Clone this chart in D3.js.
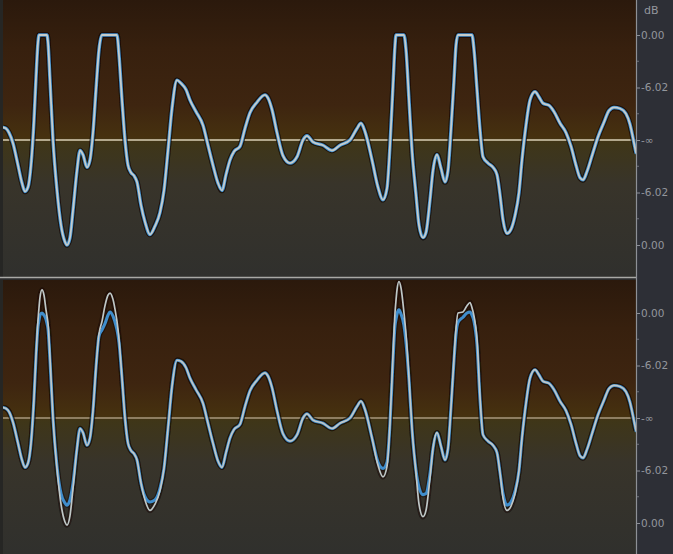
<!DOCTYPE html>
<html>
<head>
<meta charset="utf-8">
<script src="https://cdn.jsdelivr.net/npm/d3@7"></script>
<style>
  html, body { margin: 0; padding: 0; background: #2d2f36; overflow: hidden; }
  svg { display: block; }
</style>
</head>
<body>
<svg id="chart" width="673" height="554"></svg>
<script>
// Sample positions of the waveform vertices
const sample = [
  0,3,6,10,15,19,22,25,28,31,
  33,35,36,37,39,41,43,44,45,47,
  50,54,58,62,64,67,70,74,77,80,
  84,87,90,93,96,99,102,105,107,110,
  113,114,116,119,122,125,128,131,134,138,
  142,147,152,157,161,165,169,174,178,183,
  187,193,200,205,210,215,219,223,227,231,
  237,242,247,254,262,265,269,274,280,287,
  294,300,304,310,320,329,337,347,354,358,
  362,369,375,380,384,387,390,392,393,394,
  396,398,401,403,406,409,413,416,420,423,
  427,430,434,438,442,445,448,451,453,455,
  460,464,467,469,471,474,477,480,485,490,
  494,497,500,504,508,512,516,519,523,527,
  532,536,540,546,551,557,563,568,573,577,
  580,584,589,595,601,606,611,617,623,627,
  630,633
];

// Channel 1 (clipped at full scale)
const channel1 = [
  0.12,0.11,0.07,-0.03,-0.24,-0.41,-0.49,-0.45,-0.24,0.19,
  0.59,0.93,1,1,1,1,1,1,0.93,0.57,
  0,-0.48,-0.81,-0.97,-1,-0.93,-0.67,-0.29,-0.10,-0.14,
  -0.26,-0.19,0.07,0.48,0.86,1,1,1,1,1,
  1,1,0.81,0.38,0,-0.24,-0.31,-0.34,-0.40,-0.62,
  -0.78,-0.90,-0.82,-0.69,-0.48,-0.10,0.30,0.57,0.54,0.48,
  0.38,0.27,0.14,-0.05,-0.24,-0.41,-0.48,-0.33,-0.19,-0.11,
  -0.06,0.11,0.26,0.36,0.43,0.40,0.29,0.07,-0.15,-0.22,
  -0.16,0,0.04,-0.02,-0.05,-0.10,-0.05,0,0.11,0.16,
  0.08,-0.19,-0.45,-0.57,-0.46,-0.05,0.52,0.90,1,1,
  1,1,1,0.86,0.38,-0.10,-0.52,-0.81,-0.93,-0.88,
  -0.57,-0.29,-0.14,-0.27,-0.40,-0.29,0.10,0.57,0.90,1,
  1,1,1,1,0.86,0.48,0.10,-0.16,-0.22,-0.26,
  -0.33,-0.52,-0.76,-0.89,-0.85,-0.72,-0.50,-0.19,0.14,0.38,
  0.46,0.41,0.35,0.33,0.27,0.16,0.07,-0.06,-0.24,-0.36,
  -0.38,-0.30,-0.15,0.03,0.17,0.28,0.31,0.30,0.25,0.15,
  0.02,-0.12
];

// Channel 2, unlimited signal (overs above 0 dBFS)
const channel2Raw = [
  0.10,0.09,0.06,-0.04,-0.24,-0.40,-0.47,-0.43,-0.24,0.19,
  0.59,0.93,1.05,1.15,1.22,1.17,1.03,0.97,0.90,0.57,
  0,-0.48,-0.82,-0.99,-1.02,-0.93,-0.67,-0.29,-0.10,-0.14,
  -0.26,-0.19,0.07,0.48,0.80,0.92,1.07,1.17,1.19,1.13,
  0.98,0.92,0.75,0.38,0,-0.24,-0.31,-0.34,-0.40,-0.62,
  -0.78,-0.88,-0.82,-0.69,-0.48,-0.10,0.30,0.55,0.54,0.48,
  0.38,0.27,0.14,-0.05,-0.24,-0.41,-0.47,-0.33,-0.19,-0.11,
  -0.06,0.11,0.26,0.36,0.43,0.40,0.29,0.07,-0.15,-0.22,
  -0.16,0,0.04,-0.02,-0.05,-0.10,-0.05,0,0.11,0.16,
  0.08,-0.19,-0.45,-0.56,-0.46,-0.05,0.60,1.00,1.12,1.22,
  1.30,1.24,1.00,0.80,0.38,-0.10,-0.52,-0.82,-0.94,-0.88,
  -0.57,-0.29,-0.14,-0.27,-0.40,-0.29,0.10,0.57,0.85,1.00,
  1.01,1.07,1.10,1.05,0.97,0.75,0.20,-0.16,-0.22,-0.26,
  -0.33,-0.52,-0.76,-0.88,-0.84,-0.72,-0.50,-0.19,0.14,0.38,
  0.46,0.41,0.35,0.33,0.27,0.16,0.07,-0.06,-0.24,-0.36,
  -0.38,-0.30,-0.15,0.03,0.17,0.28,0.31,0.30,0.25,0.15,
  0.02,-0.12
];

// Channel 2 after the limiter
const channel2Limited = [
  0.10,0.09,0.06,-0.04,-0.24,-0.40,-0.47,-0.43,-0.24,0.19,
  0.58,0.87,0.93,0.98,1.00,0.98,0.94,0.90,0.85,0.55,
  0,-0.46,-0.72,-0.81,-0.83,-0.78,-0.62,-0.29,-0.10,-0.14,
  -0.26,-0.19,0.07,0.48,0.78,0.84,0.90,0.98,1.01,0.97,
  0.88,0.84,0.72,0.38,0,-0.24,-0.31,-0.34,-0.40,-0.62,
  -0.75,-0.80,-0.78,-0.67,-0.48,-0.10,0.30,0.55,0.54,0.48,
  0.38,0.27,0.14,-0.05,-0.24,-0.41,-0.47,-0.33,-0.19,-0.11,
  -0.06,0.11,0.26,0.36,0.43,0.40,0.29,0.07,-0.15,-0.22,
  -0.16,0,0.04,-0.02,-0.05,-0.10,-0.05,0,0.11,0.16,
  0.08,-0.19,-0.42,-0.48,-0.42,-0.05,0.55,0.88,0.94,0.99,
  1.03,0.99,0.88,0.72,0.36,-0.10,-0.50,-0.66,-0.73,-0.72,
  -0.53,-0.29,-0.14,-0.27,-0.40,-0.29,0.10,0.55,0.80,0.91,
  0.96,1.00,1.01,0.98,0.92,0.70,0.18,-0.16,-0.22,-0.26,
  -0.33,-0.52,-0.72,-0.83,-0.80,-0.70,-0.50,-0.19,0.14,0.38,
  0.46,0.41,0.35,0.33,0.27,0.16,0.07,-0.06,-0.24,-0.36,
  -0.38,-0.30,-0.15,0.03,0.17,0.28,0.31,0.30,0.25,0.15,
  0.02,-0.12
];

// dB ruler
const dbTicks = [1, 0.5, 0, -0.5, -1];
const dbLabels = ["0.00", "-6.02", "-\u221E", "-6.02", "0.00"];
const dbMinorTicks = [0.75, 0.25, -0.25, -0.75];
const rulerUnit = "dB";

const W = 673, H = 554;
const plotLeft = 3, plotRight = 636;
const lanes = [
  { top: 0, bottom: 277, center: 140, half: 105 },
  { top: 280, bottom: 554, center: 418, half: 105 }
];

const svg = d3.select("#chart");
const defs = svg.append("defs");

// background gradients for each lane: brown above the centre line, slate below
lanes.forEach((ln, i) => {
  const g = defs.append("linearGradient")
    .attr("id", "laneBg" + i)
    .attr("gradientUnits", "userSpaceOnUse")
    .attr("x1", 0).attr("x2", 0).attr("y1", ln.top).attr("y2", ln.bottom);
  const span = ln.bottom - ln.top;
  const c = (ln.center - ln.top) / span;
  [
    [0, "#2b190c"],
    [c * 0.35, "#37200e"],
    [c * 0.75, "#3e2510"],
    [c - 0.01, "#46310f"],
    [c + 0.01, "#3f3618"],
    [c + 0.16, "#38342a"],
    [1, "#30302d"]
  ].forEach(([o, col]) => g.append("stop").attr("offset", o).attr("stop-color", col));

  defs.append("clipPath").attr("id", "laneClip" + i)
    .append("rect")
    .attr("x", plotLeft).attr("y", ln.top)
    .attr("width", plotRight - plotLeft).attr("height", ln.bottom - ln.top);
});

const soften = defs.append("filter").attr("id", "soften")
  .attr("x", "-5%").attr("y", "-5%").attr("width", "110%").attr("height", "110%");
soften.append("feGaussianBlur").attr("stdDeviation", 0.6);

// page + ruler background
svg.append("rect").attr("width", W).attr("height", H).attr("fill", "#2d2f36");
svg.append("rect").attr("x", 0).attr("y", 0).attr("width", plotRight).attr("height", H).attr("fill", "#262624");

const x = d3.scaleLinear().domain([0, 633]).range([plotLeft, plotRight]);

function drawLane(i, traces) {
  const ln = lanes[i];
  const y = d3.scaleLinear().domain([-1, 1]).range([ln.center + ln.half, ln.center - ln.half]);
  const g = svg.append("g");

  g.append("rect")
    .attr("x", plotLeft).attr("y", ln.top)
    .attr("width", plotRight - plotLeft).attr("height", ln.bottom - ln.top)
    .attr("fill", `url(#laneBg${i})`);

  // centre (-inf) line
  g.append("line")
    .attr("x1", plotLeft).attr("x2", plotRight)
    .attr("y1", y(0)).attr("y2", y(0))
    .attr("stroke", i === 0 ? "#d8d1b6" : "#a8997c")
    .attr("stroke-width", i === 0 ? 1.6 : 1.3);

  const line = d3.line()
    .x((d, k) => x(sample[k]))
    .y(d => y(d))
    .curve(d3.curveMonotoneX);

  const wave = g.append("g")
    .attr("clip-path", `url(#laneClip${i})`)
    .attr("filter", "url(#soften)");

  // dark halo under the traces
  traces.forEach(t => {
    wave.append("path").attr("d", line(t.values))
      .attr("fill", "none").attr("stroke", "#120c06")
      .attr("stroke-opacity", 0.45).attr("stroke-width", 5.5)
      .attr("stroke-linejoin", "round");
  });
  traces.forEach(t => {
    wave.append("path").attr("d", line(t.values))
      .attr("fill", "none").attr("stroke", t.color)
      .attr("stroke-width", t.width).attr("stroke-linejoin", "round")
      .attr("stroke-linecap", "round");
  });

  // dB ruler on the right
  const axis = d3.axisRight(y)
    .tickValues(dbTicks)
    .tickFormat((d, k) => dbLabels[k])
    .tickSize(4)
    .tickPadding(1);
  const ax = svg.append("g").attr("transform", `translate(${plotRight},0)`).call(axis);
  ax.select(".domain").remove();
  ax.selectAll(".tick line").attr("stroke", "#8c8f96");
  ax.selectAll(".tick text")
    .attr("fill", "#93969d")
    .style("font-family", "'DejaVu Sans', sans-serif")
    .style("font-size", "10.5px");
  ax.selectAll(".minor").data(dbMinorTicks).enter().append("line")
    .attr("x1", 0).attr("x2", 3)
    .attr("y1", d => y(d)).attr("y2", d => y(d))
    .attr("stroke", "#6d7078");
}

drawLane(0, [
  { values: channel1, color: "#4393d2", width: 3.4 },
  { values: channel1, color: "#c6cccb", width: 1.8 }
]);
drawLane(1, [
  { values: channel2Limited, color: "#3f8dcc", width: 3.1 },
  { values: channel2Raw, color: "#c0c7c7", width: 1.7 }
]);

// separator between the two lanes
svg.append("rect").attr("x", 0).attr("y", 277).attr("width", plotRight).attr("height", 3).attr("fill", "#2b2b2b");
svg.append("line").attr("x1", 0).attr("x2", plotRight).attr("y1", 277.5).attr("y2", 277.5)
  .attr("stroke", "#a9a9a6").attr("stroke-width", 1.4);

// ruler divider
svg.append("line").attr("x1", plotRight + 0.5).attr("x2", plotRight + 0.5).attr("y1", 0).attr("y2", H)
  .attr("stroke", "#8d9096").attr("stroke-width", 1.2);

svg.append("text").attr("x", 644).attr("y", 14)
  .attr("fill", "#93969d")
  .style("font-family", "'DejaVu Sans', sans-serif")
  .style("font-size", "11px")
  .text(rulerUnit);
</script>
</body>
</html>
